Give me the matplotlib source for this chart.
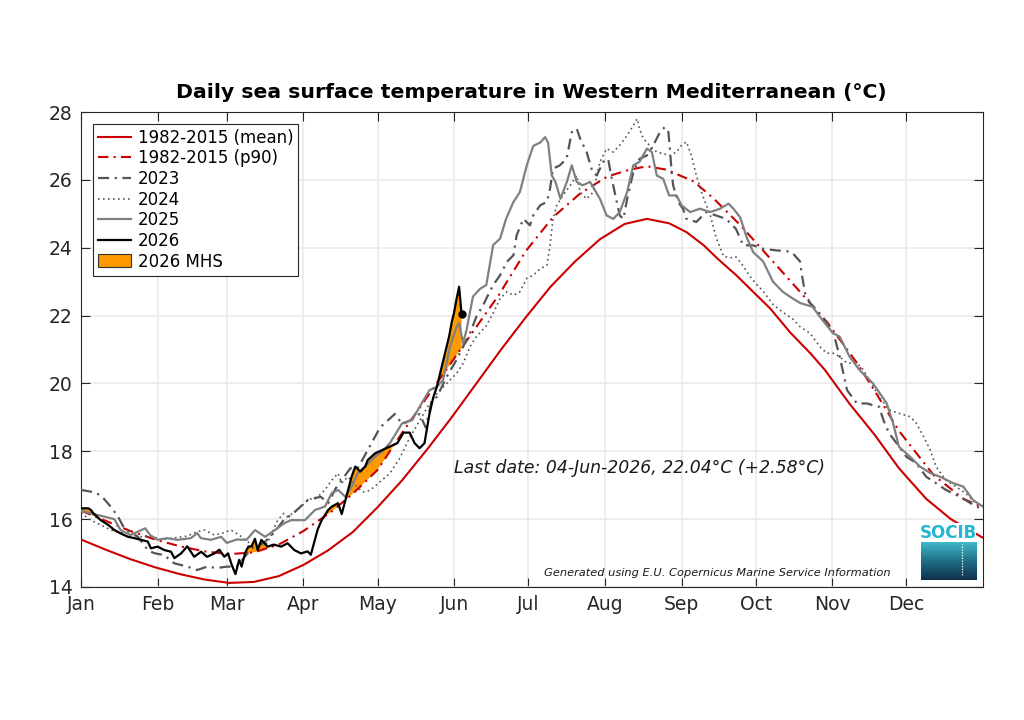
"""Daily SST in the Western Mediterranean: climatology, recent years and 2026 MHS."""

import matplotlib
matplotlib.use("Agg")
import matplotlib.pyplot as plt
import numpy as np
from matplotlib.patches import Patch

# ---- data (day of year from 1 Jan = 0, temperature in degC) ----
MONTHS = ["Jan", "Feb", "Mar", "Apr", "May", "Jun",
          "Jul", "Aug", "Sep", "Oct", "Nov", "Dec"]
MONTH_START = [0, 31, 59, 90, 120, 151, 181, 212, 243, 273, 304, 334]

days_mean = [0, 10, 20, 30, 40, 50, 60, 70, 80, 90, 100, 110, 120, 130, 140,
             150, 160, 170, 180, 190, 200, 210, 220, 229, 238, 245, 252, 258,
             265, 272, 279, 287, 295, 301, 311, 321, 331, 342, 352, 365]
t_mean = [15.40, 15.10, 14.82, 14.58, 14.38, 14.22, 14.12, 14.15, 14.32, 14.65,
          15.08, 15.62, 16.35, 17.15, 18.05, 19.0, 20.0, 21.0, 21.95, 22.85,
          23.6, 24.25, 24.7, 24.85, 24.72, 24.46, 24.07, 23.65, 23.2, 22.7,
          22.2, 21.5, 20.9, 20.4, 19.4, 18.5, 17.5, 16.6, 16.0, 15.45]

days_p90 = [0, 10, 20, 30, 40, 50, 60, 70, 80, 90, 101, 110, 120, 130, 142,
            155, 169, 180, 191, 202, 213, 222, 229, 237, 248, 256, 267, 283,
            302, 314, 321, 331, 345, 357, 365]
t_p90 = [16.25, 15.95, 15.65, 15.4, 15.2, 15.05, 14.97, 15.02, 15.25, 15.65,
         16.2, 16.75, 17.45, 18.55, 19.8, 21.15, 22.6, 23.9, 24.9, 25.6, 26.1,
         26.3, 26.4, 26.3, 25.95, 25.45, 24.65, 23.35, 21.8, 20.6, 19.8, 18.6,
         17.3, 16.6, 16.35]

days_2023 = [0, 4, 8, 12, 15, 17.5, 20, 23, 27, 29.5, 33.6, 37.7, 43, 47, 51,
             55, 59, 63, 67.5, 70, 74, 78, 82, 86, 91.7, 97, 100, 103, 106,
             109, 112, 115, 118, 121, 124, 127, 130, 133, 137, 139.5, 142, 144,
             148, 152, 155.4, 157.4, 160, 162.7, 164, 166.8, 169.6, 172.3, 175,
             176.3, 179, 181.7, 183, 185.8, 188.5, 189.8, 191, 193.8, 196.5,
             198.6, 200.6, 202, 204.6, 207, 208.7, 211.3, 213.3, 214.8, 216.8,
             218, 219.5, 221, 223.5, 226, 229, 231.6, 234.3, 236.3, 237.7,
             238.4, 239, 239.6, 241.6, 243.6, 245, 249, 253, 257, 261, 265,
             268, 272, 276, 281.5, 285.6, 288, 291, 291.6, 293, 295, 297.7,
             301.8, 304.5, 307, 308.5, 310, 314, 318, 323, 324.7, 327, 330,
             334, 338, 342, 346, 350, 355.7, 360, 365]
t_2023 = [16.86, 16.81, 16.71, 16.37, 16.07, 15.73, 15.6, 15.48, 15.09, 15.0,
          14.94, 14.7, 14.6, 14.5, 14.6, 14.56, 14.6, 14.6, 15.0, 15.19, 15.3,
          15.59, 15.97, 16.18, 16.56, 16.66, 16.47, 16.9, 17.2, 17.5, 17.5,
          17.9, 18.3, 18.7, 18.9, 19.1, 18.8, 18.9, 19.1, 18.7, 19.5, 19.6,
          20.2, 20.7, 21.2, 21.48, 21.97, 22.3, 22.5, 22.9, 23.19, 23.58,
          23.78, 24.37, 24.85, 24.66, 24.95, 25.25, 25.35, 25.74, 26.33, 26.43,
          26.62, 27.41, 27.51, 27.21, 26.82, 26.23, 26.13, 26.53, 26.62, 26.03,
          25.35, 24.95, 24.85, 25.44, 26.23, 26.62, 26.72, 27.02, 27.41, 27.56,
          27.41, 26.82, 26.23, 25.84, 25.35, 25.15, 24.85, 24.76, 25.05, 24.95,
          24.85, 24.56, 24.07, 24.07, 23.97, 23.92, 23.9, 23.84, 23.59, 23.25,
          22.66, 22.37, 22.16, 21.78, 21.48, 20.79, 20.3, 19.8, 19.41, 19.41,
          19.31, 18.92, 18.53, 18.24, 17.84, 17.65, 17.25, 17.06, 16.86, 16.66,
          16.47, 16.27]

days_2024 = [0, 4, 8, 12, 16, 20, 24, 28, 33, 38, 43, 47, 50, 54, 57, 60.7, 65,
             70, 75.5, 79.6, 82, 83.6, 87.7, 91.7, 95.8, 98.7, 101.5, 104,
             105.5, 108, 111, 114, 117, 121, 125, 129, 133, 137, 141, 144, 148,
             152, 154.7, 157.4, 160, 164, 167, 169.6, 172.3, 175, 177.6, 180.4,
             183, 185.8, 188.5, 189.8, 191, 192.5, 195, 198, 200.6, 202, 204.6,
             207.3, 210, 212.7, 215.4, 218, 221, 223.5, 225, 226, 227.6, 230,
             233, 235.6, 238.4, 241, 243, 245, 247, 249, 252, 254.5, 257, 260,
             262.6, 265, 268, 270.7, 273.4, 276, 280, 284, 288, 291, 295, 299,
             301.8, 304.5, 307, 310, 314, 316.6, 319, 323, 327, 331, 335.5, 338,
             341, 343.6, 346, 350, 354, 358, 362, 365]
t_2024 = [16.18, 15.97, 15.83, 15.68, 15.6, 15.58, 15.48, 15.5, 15.4, 15.45,
          15.5, 15.63, 15.68, 15.53, 15.58, 15.68, 15.48, 15.19, 15.29, 15.97,
          16.17, 16.07, 16.27, 16.56, 16.66, 16.86, 17.15, 17.35, 17.06, 17.25,
          17.0, 16.8, 16.85, 17.1, 17.35, 17.8, 18.4, 18.9, 19.4, 19.7, 20.0,
          20.3, 20.6, 21.08, 21.38, 21.7, 22.1, 22.5, 22.7, 22.6, 22.7, 23.1,
          23.19, 23.38, 23.48, 24.07, 24.85, 25.25, 25.54, 25.84, 26.13, 25.64,
          25.44, 25.64, 26.53, 26.92, 26.82, 27.02, 27.31, 27.6, 27.8, 27.5,
          27.21, 27.02, 26.82, 26.77, 26.72, 26.82, 27.02, 27.12, 26.72, 26.13,
          25.44, 25.0, 24.3, 23.75, 23.7, 23.73, 23.46, 23.15, 22.92, 22.72,
          22.33, 22.1, 21.9, 21.67, 21.48, 21.08, 20.89, 20.89, 20.79, 20.6,
          20.6, 20.4, 20.1, 19.6, 19.22, 19.12, 19.02, 18.83, 18.43, 18.04,
          17.55, 17.15, 16.96, 16.76, 16.47, 16.37]

days_2025 = [0, 4, 8, 13.5, 16, 20, 23, 26, 28, 31, 35, 39, 44.5, 47, 48.5,
             52.6, 56.7, 59, 63, 67, 70.4, 74.5, 78.5, 82.5, 85, 90.6, 94.7,
             98.7, 101.5, 104, 107, 109.5, 112, 115, 119, 122, 125, 130, 134,
             137, 141, 144, 146.5, 149.3, 152, 153, 154.6, 156, 158.6, 161.5,
             164, 166.8, 169.6, 172, 175, 177.6, 180.4, 183, 185.8, 187.8, 189,
             190.5, 192, 194, 196.6, 198.6, 200.6, 203, 206, 210, 212.7, 215.4,
             218, 221, 223.5, 226, 229, 231, 233, 235.6, 238, 241, 243, 246.5,
             250.5, 254.5, 258.6, 262, 264, 266.7, 269.4, 272, 276, 280, 284,
             287, 291, 296, 300, 304.3, 307, 311, 315, 320.5, 326, 328.6, 331,
             335.5, 339.5, 343.6, 347.6, 353, 357, 361, 365]
t_2025 = [16.25, 16.17, 16.1, 16.0, 15.68, 15.53, 15.63, 15.73, 15.53, 15.39,
          15.44, 15.39, 15.44, 15.59, 15.44, 15.39, 15.48, 15.3, 15.4, 15.39,
          15.68, 15.48, 15.68, 15.89, 15.97, 15.97, 16.27, 16.37, 16.77, 16.86,
          16.66, 16.96, 17.36, 17.55, 17.84, 18.0, 18.24, 18.83, 18.92, 19.31,
          19.8, 19.9, 20.1, 21.08, 21.67, 21.78, 21.19, 21.57, 22.56, 22.79,
          22.9, 24.08, 24.27, 24.85, 25.35, 25.64, 26.43, 27.0, 27.1, 27.26,
          27.1, 26.13, 25.94, 25.44, 25.94, 26.43, 25.94, 25.84, 25.94, 25.44,
          24.95, 24.85, 25.05, 25.64, 26.43, 26.53, 26.92, 26.82, 26.13, 26.03,
          25.54, 25.54, 25.25, 25.05, 25.15, 25.05, 25.15, 25.3, 25.15, 24.9,
          24.3, 23.87, 23.6, 23.0, 22.7, 22.55, 22.37, 22.26, 21.87, 21.48,
          21.38, 20.79, 20.4, 20.0, 19.42, 18.83, 18.13, 17.84, 17.55, 17.36,
          17.25, 17.06, 16.96, 16.56, 16.37]

days_2026 = [0, 3, 4, 5, 8, 11, 13.5, 16, 19, 21.6, 24.3, 27, 28.3, 31, 33.7,
             36.4, 37.8, 40.5, 43, 45.8, 48.6, 51, 54, 56, 58, 59.5, 61, 62.5,
             64, 65, 66.4, 67.7, 69, 70.4, 71.5, 73, 75.5, 78, 81, 83.6, 86.3,
             89, 91.7, 93, 95.8, 97.4, 100, 101.5, 104, 105.5, 107, 109.5, 111,
             113, 115, 116, 119, 122, 125, 128, 130.5, 133, 135, 137, 139, 141,
             142.6, 144, 145, 146, 147, 148, 149, 150, 151, 152, 153, 154]
t_2026 = [16.32, 16.32, 16.27, 16.17, 15.97, 15.83, 15.68, 15.58, 15.48, 15.44,
          15.39, 15.34, 15.14, 15.19, 15.09, 15.04, 14.85, 14.99, 15.2, 14.89,
          15.04, 14.89, 14.99, 15.1, 14.89, 14.99, 14.65, 14.38, 14.8, 14.6,
          15.0, 15.19, 15.2, 15.42, 15.09, 15.39, 15.19, 15.25, 15.19, 15.29,
          15.09, 14.99, 15.05, 14.95, 15.7, 15.97, 16.27, 16.37, 16.47, 16.15,
          16.56, 17.25, 17.55, 17.4, 17.55, 17.74, 17.94, 18.04, 18.14, 18.24,
          18.55, 18.55, 18.24, 18.09, 18.24, 19.1, 19.6, 19.9, 20.2, 20.5, 20.8,
          21.1, 21.4, 21.8, 22.1, 22.5, 22.85, 22.04]

LAST_LABEL = "Last date: 04-Jun-2026, 22.04°C (+2.58°C)"
CREDIT = "Generated using E.U. Copernicus Marine Service Information"

RED = "#cc0000"
ORANGE = "#ff9900"

fig = plt.figure(figsize=(10.24, 7.2), dpi=100)
ax = fig.add_axes([81 / 1024, 133 / 720, 902 / 1024, 475 / 720])

# marine heat wave shading: 2026 above the p90 climatology
p90_on_2026 = np.interp(days_2026, days_p90, t_p90)
ax.fill_between(days_2026, t_2026, p90_on_2026,
                where=np.array(t_2026) > p90_on_2026, interpolate=True,
                color=ORANGE, lw=0, zorder=2)

ax.plot(days_mean, t_mean, color=RED, lw=1.5, label="1982-2015 (mean)", zorder=3)
ax.plot(days_p90, t_p90, color=RED, lw=1.5, dashes=(5, 2.5, 1, 2.5),
        label="1982-2015 (p90)", zorder=3)
ax.plot(days_2023, t_2023, color="#555555", lw=1.6, dashes=(5, 2.5, 1, 2.5),
        label="2023", zorder=3)
ax.plot(days_2024, t_2024, color="#555555", lw=1.2, dashes=(1, 2),
        label="2024", zorder=3)
ax.plot(days_2025, t_2025, color="#808080", lw=1.6, label="2025", zorder=4)
ax.plot(days_2026, t_2026, color="black", lw=1.6, label="2026", zorder=5)
ax.plot(days_2026[-1], t_2026[-1], "o", color="black", ms=5, zorder=6)

ax.set_xlim(0, 365)
ax.set_ylim(14, 28)
ax.set_xticks(MONTH_START)
ax.set_xticklabels(MONTHS)
ax.set_yticks(range(14, 29, 2))
ax.tick_params(direction="in", length=6.5, width=0.8, top=True, right=True,
               labelsize=13.5, pad=6, color="#262626", labelcolor="#262626")
ax.grid(True, color="#e8e8e8", lw=1.1)
ax.set_axisbelow(True)
for sp in ax.spines.values():
    sp.set_color("#262626")
    sp.set_linewidth(0.8)

handles, labels = ax.get_legend_handles_labels()
handles.append(Patch(facecolor=ORANGE, edgecolor="#333333", lw=0.8))
labels.append("2026 MHS")
leg = ax.legend(handles, labels, loc="upper left", fontsize=12,
                borderaxespad=0.7, fancybox=False, framealpha=1,
                edgecolor="#262626", handlelength=2.0, handleheight=0.8,
                labelspacing=0.16, borderpad=0.3, handletextpad=0.4)
leg.get_frame().set_linewidth(0.8)
leg.set_zorder(10)

ax.text(151, 17.5, LAST_LABEL, fontsize=12.4, style="italic",
        ha="left", va="center", color="#1a1a1a")
ax.text(327.8, 14.41, CREDIT, fontsize=8.2, style="italic",
        ha="right", va="center", color="#1a1a1a")

fig.text(531.5 / 1024, 1 - 93 / 720,
         "Daily sea surface temperature in Western Mediterranean (°C)",
         fontsize=14.7, fontweight="bold", ha="center", va="center")

# SOCIB logo
logo = fig.add_axes([920.5 / 1024, (720 - 580) / 720, 55.5 / 1024, 57 / 720])
logo.set_xlim(0, 1)
logo.set_ylim(0, 1)
logo.axis("off")
logo.add_patch(plt.Rectangle((0, 0), 1, 1, color="white", zorder=0))
grad = np.linspace(0, 1, 64).reshape(-1, 1)
cmap = matplotlib.colors.LinearSegmentedColormap.from_list(
    "socib", ["#0d2f4c", "#1f6f86", "#40b8c8"])
logo.imshow(grad, cmap=cmap, origin="lower", aspect="auto",
            extent=(0, 1, 0, 0.66), zorder=1)
logo.plot([0.75, 0.75], [0.08, 0.64], color="white", lw=0.9,
          dashes=(1, 1.2), zorder=2)
logo.text(0.5, 0.82, "SOCIB", color="#22b6d2", fontsize=12, fontweight="bold",
          ha="center", va="center", zorder=3)

fig.savefig("out.png", dpi=100)
